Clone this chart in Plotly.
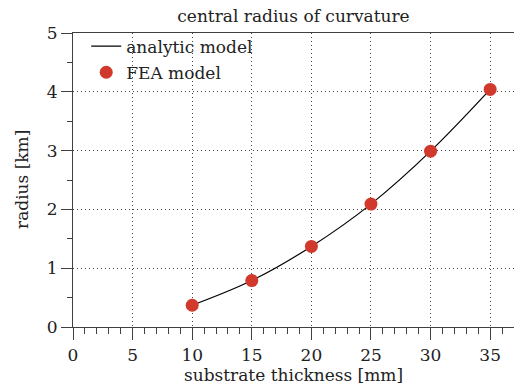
import plotly.graph_objects as go

thickness = [10, 15, 20, 25, 30, 35]
fea_radius = [0.37, 0.79, 1.37, 2.09, 2.99, 4.04]
analytic_x = [10, 15, 20, 25, 30, 35]
analytic_y = [0.37, 0.79, 1.37, 2.09, 2.99, 4.04]

FONT = "DejaVu Serif"
FS = 17
AX = "#404040"

fig = go.Figure()
fig.add_trace(go.Scatter(x=analytic_x, y=analytic_y, mode="lines",
                         line=dict(color="black", width=1.2, shape="spline"),
                         name="analytic model", legendgroup="a"))
fig.add_trace(go.Scatter(x=thickness, y=fea_radius, mode="markers",
                         marker=dict(color="#d0392b", size=13),
                         name="FEA model", legendgroup="b"))

fig.update_layout(
    width=514, height=385,
    margin=dict(l=73, r=0, t=33, b=58, autoexpand=False),
    paper_bgcolor="white", plot_bgcolor="white",
    font=dict(family=FONT, size=FS, color="#222"),
    title=dict(text="central radius of curvature", x=0.5, xref="paper",
               xanchor="center", y=1 - 16 / 385, yref="container",
               yanchor="middle", font=dict(size=FS)),
    legend=dict(x=0.03, y=1.015, xanchor="left", yanchor="top",
                bgcolor="rgba(0,0,0,0)", tracegroupgap=1,
                traceorder="grouped", font=dict(size=FS)),
    showlegend=True,
    annotations=[
        dict(text="substrate thickness [mm]", xref="paper", yref="paper",
             x=0.5, y=-(375 - 327) / 294, xanchor="center", yanchor="middle",
             showarrow=False, font=dict(size=FS)),
        dict(text="radius [km]", xref="paper", yref="paper",
             x=-(73 - 22) / 441, y=0.5, xanchor="center", yanchor="middle",
             textangle=-90, showarrow=False, font=dict(size=FS)),
    ],
)
fig.update_xaxes(range=[0, 37], tickvals=[0, 5, 10, 15, 20, 25, 30, 35],
                 automargin=False,
                 showline=True, linecolor=AX, linewidth=1.2, mirror=True,
                 ticks="outside", ticklen=12, tickcolor=AX, tickwidth=1,
                 showgrid=True, gridcolor="#444", griddash="1px,3px", gridwidth=1,
                 zeroline=False,
                 minor=dict(ticks="outside", ticklen=6, dtick=1, tickcolor=AX,
                            showgrid=False))
fig.update_yaxes(range=[0, 5], tickvals=[0, 1, 2, 3, 4, 5],
                 automargin=False,
                 showline=True, linecolor=AX, linewidth=1.2,
                 ticks="outside", ticklen=11, tickcolor=AX, tickwidth=1,
                 showgrid=True, gridcolor="#444", griddash="1px,3px", gridwidth=1,
                 zeroline=False,
                 minor=dict(ticks="outside", ticklen=5, dtick=0.5, tickcolor=AX,
                            showgrid=False))

fig.write_html("out.html", config={"displayModeBar": False},
               post_script="document.body.style.margin='0px';")
